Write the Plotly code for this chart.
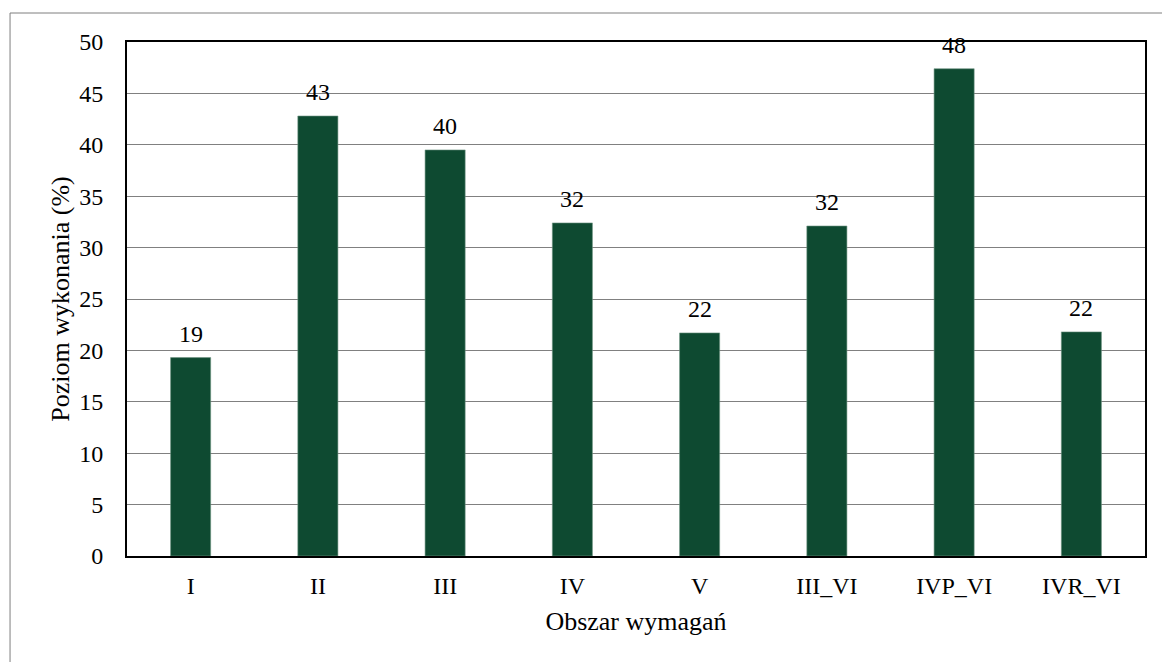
import plotly.graph_objects as go

categories = ["I", "II", "III", "IV", "V", "III_VI", "IVP_VI", "IVR_VI"]
values = [19.3, 42.8, 39.5, 32.4, 21.7, 32.1, 47.4, 21.8]
labels = ["19", "43", "40", "32", "22", "32", "48", "22"]
y_ticks = [0, 5, 10, 15, 20, 25, 30, 35, 40, 45, 50]

FONT = "Times New Roman, Liberation Serif, DejaVu Serif, serif"

fig = go.Figure()
fig.add_trace(go.Bar(
    x=categories, y=values,
    marker=dict(color="#0E4A31", line=dict(color="#6f9483", width=0.6)),
    width=0.315,
    hoverinfo="x+y",
))

for c, v, t in zip(categories, values, labels):
    fig.add_annotation(x=c, y=v, text=t, showarrow=False, yanchor="bottom",
                       yshift=9, font=dict(family=FONT, size=24, color="black"))

fig.add_shape(type="rect", xref="paper", yref="paper",
              x0=-0.1149, x1=1.05, y0=-0.4, y1=1.0564,
              line=dict(color="#7f7f7f", width=1), layer="below")

fig.update_layout(
    width=1162, height=662,
    margin=dict(l=127, r=17, t=42, b=106, autoexpand=False),
    paper_bgcolor="white", plot_bgcolor="white",
    showlegend=False,
    font=dict(family=FONT, size=24, color="black"),
    xaxis=dict(
        type="category", automargin=False,
        showline=True, linecolor="black", linewidth=2, mirror=True,
        showgrid=False, ticks="",
        tickfont=dict(family=FONT, size=24, color="black"),
        ticklabelstandoff=7,
        title=dict(text="Obszar wymagań", font=dict(family=FONT, size=26), standoff=14),
    ),
    yaxis=dict(
        range=[0, 50], tickvals=y_ticks, automargin=False,
        showline=True, linecolor="black", linewidth=2, mirror=True,
        showgrid=True, gridcolor="#808080", gridwidth=1,
        zeroline=False, ticks="",
        tickfont=dict(family=FONT, size=24, color="black"),
        ticklabelstandoff=17,
        title=dict(text="Poziom wykonania (%)", font=dict(family=FONT, size=26), standoff=2),
    ),
)

fig.write_html(
    "out.html",
    config={"displayModeBar": False},
    post_script="document.body.style.margin='0';document.body.style.overflow='hidden';",
)
